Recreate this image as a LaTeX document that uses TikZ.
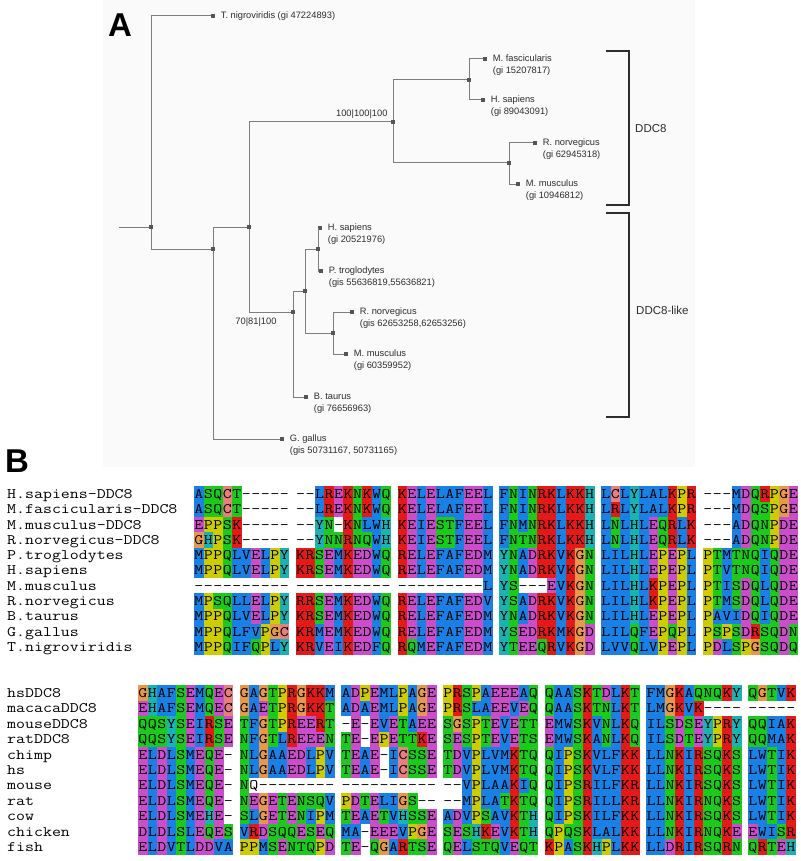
\documentclass[tikz,border=0pt]{standalone}
\usepackage{fontspec}
\setmainfont{Liberation Sans}
\newfontfamily\seqfont[FakeStretch=1.2]{Latin Modern Mono}
\usetikzlibrary{positioning}

% ClustalX residue colours
\definecolor{cxblue}{RGB}{25,128,230}
\definecolor{cxred}{RGB}{230,25,25}
\definecolor{cxgreen}{RGB}{25,204,25}
\definecolor{cxmagenta}{RGB}{204,77,204}
\definecolor{cxpink}{RGB}{230,128,128}
\definecolor{cxorange}{RGB}{230,153,77}
\definecolor{cxcyan}{RGB}{25,179,179}
\definecolor{cxyellow}{RGB}{204,204,0}
\definecolor{branchgray}{RGB}{125,125,125}
\definecolor{nodegray}{RGB}{85,85,85}
\definecolor{labelgray}{RGB}{45,45,45}
\definecolor{panelbg}{RGB}{250,250,250}

\makeatletter
\newcount\rescount
\def\cellw{9.5}
\def\cellh{15.3}
\def\rc@set#1#2{\@namedef{rc@#1}{#2}}
\rc@set{A}{cxblue}\rc@set{I}{cxblue}\rc@set{L}{cxblue}\rc@set{M}{cxblue}
\rc@set{F}{cxblue}\rc@set{W}{cxblue}\rc@set{V}{cxblue}
\rc@set{C}{cxpink}
\rc@set{K}{cxred}\rc@set{R}{cxred}
\rc@set{E}{cxmagenta}\rc@set{D}{cxmagenta}
\rc@set{N}{cxgreen}\rc@set{Q}{cxgreen}\rc@set{S}{cxgreen}\rc@set{T}{cxgreen}
\rc@set{G}{cxorange}
\rc@set{P}{cxyellow}
\rc@set{H}{cxcyan}\rc@set{Y}{cxcyan}
% one block of residues, lower case = no colour
\newcommand\resblock[1]{\rescount=0 \res@loop#1\relax}
\def\res@loop#1{\ifx\relax#1\else\res@draw{#1}\advance\rescount by 1 \expandafter\res@loop\fi}
\def\res@draw#1{%
  \ifcsname rc@#1\endcsname
    \edef\rescol{\csname rc@#1\endcsname}%
    \fill[fill=\rescol] ({\resx+\the\rescount*\cellw},{\resy-\cellh/2}) rectangle ++({\cellw+0.25},{\cellh+0.25});%
  \fi
  \edef\resname{\resid-\the\rescount}%
  \node[res] at ({\resx+(\the\rescount+0.5)*\cellw},\resy) (\resname) {\uppercase{#1}};}
\makeatother

% one alignment row: id, y, name, blocks
\newcommand\alnrow[4]{%
  \node[seqname] at (7,#2) (#1) {#3};
  \foreach \blk [count=\bi from 0] in {#4} {%
    \pgfmathsetmacro\resx{\alnx+\bi*\alnpitch}%
    \def\resy{#2}\edef\resid{#1-\bi}%
    \expandafter\resblock\expandafter{\blk}}}

\begin{document}
\begin{tikzpicture}[x=1pt,y=-1pt,
  branch/.style={draw=branchgray, line width=1pt},
  inode/.style={fill=nodegray, inner sep=0pt, minimum size=4.2pt},
  leaf/.style={fill=nodegray, inner sep=0pt, minimum size=4pt},
  lab/.style={font=\fontsize{9.3}{11}\selectfont, text=labelgray, inner sep=0pt, text height=6.8pt, text depth=2pt},
  grp/.style={font=\fontsize{11.5}{13}\selectfont, text=labelgray, inner sep=0pt, anchor=west},
  bracket/.style={draw=labelgray, line width=1.4pt},
  panel/.style={font=\fontsize{33}{33}\selectfont\bfseries, inner sep=0pt, text height=23.6pt, text depth=0pt},
  seqname/.style={font=\fontsize{14.5}{15}\seqfont, anchor=west, inner sep=0pt, text height=8.8pt, text depth=0pt},
  res/.style={font=\fontsize{14.5}{15}\seqfont, inner sep=0pt, text height=8.8pt, text depth=0pt}]

\useasboundingbox (0,0) rectangle (800,861);
\fill[panelbg] (103,0) rectangle (695,467);

\node[panel] at (120,25) (A) {A};
\node[panel] at (17,461) (B) {B};

% tree
\coordinate (stem) at (119,227);
\node[inode] at (151,227) (root) {};
\node[inode] at (213,249) (split) {};
\node[inode] at (249,227) (mam) {};
\node[inode] at (393,122) (ddc) {};
\node[inode] at (469,80) (prim) {};
\node[inode] at (509,163) (rod) {};
\node[inode] at (293,312) (like) {};
\node[inode] at (305,291) (eut) {};
\node[inode] at (318,249) (hom) {};
\node[inode] at (333,333) (mur) {};

\node[leaf] at (213,16) (tnig) {};
\node[leaf] at (485,59) (mfas) {};
\node[leaf] at (483,100) (hsap) {};
\node[leaf] at (535,143) (rnor) {};
\node[leaf] at (518,184) (mmus) {};
\node[leaf] at (320,228) (hsapl) {};
\node[leaf] at (321,271) (ptro) {};
\node[leaf] at (352,312) (rnorl) {};
\node[leaf] at (346,354) (mmusl) {};
\node[leaf] at (306,397) (btau) {};
\node[leaf] at (282,439) (ggal) {};

\draw[branch] (stem) -- (root);
\draw[branch] (root) |- (tnig);
\draw[branch] (root) |- (split);
\draw[branch] (split) |- (mam);
\draw[branch] (split) |- (ggal);
\draw[branch] (mam) |- (ddc);
\draw[branch] (mam) |- (like);
\draw[branch] (ddc) |- (prim);
\draw[branch] (ddc) |- (rod);
\draw[branch] (prim) |- (mfas);
\draw[branch] (prim) |- (hsap);
\draw[branch] (rod) |- (rnor);
\draw[branch] (rod) |- (mmus);
\draw[branch] (like) |- (eut);
\draw[branch] (like) |- (btau);
\draw[branch] (eut) |- (hom);
\draw[branch] (eut) |- (mur);
\draw[branch] (hom) |- (hsapl);
\draw[branch] (hom) |- (ptro);
\draw[branch] (mur) |- (rnorl);
\draw[branch] (mur) |- (mmusl);

\node[lab, right=5.5pt of tnig] (tnig-n) {T. nigroviridis (gi 47224893)};
\node[lab, right=5.5pt of mfas] (mfas-n) {M. fascicularis};
\node[lab, below right=3pt and 0pt of mfas-n.south west] (mfas-g) {(gi 15207817)};
\node[lab, right=5.5pt of hsap] (hsap-n) {H. sapiens};
\node[lab, below right=3pt and 0pt of hsap-n.south west] (hsap-g) {(gi 89043091)};
\node[lab, right=5.5pt of rnor] (rnor-n) {R. norvegicus};
\node[lab, below right=3pt and 0pt of rnor-n.south west] (rnor-g) {(gi 62945318)};
\node[lab, right=5.5pt of mmus] (mmus-n) {M. musculus};
\node[lab, below right=3pt and 0pt of mmus-n.south west] (mmus-g) {(gi 10946812)};
\node[lab, right=5.5pt of hsapl] (hsapl-n) {H. sapiens};
\node[lab, below right=3pt and 0pt of hsapl-n.south west] (hsapl-g) {(gi 20521976)};
\node[lab, right=5.5pt of ptro] (ptro-n) {P. troglodytes};
\node[lab, below right=3pt and 0pt of ptro-n.south west] (ptro-g) {(gis 55636819,55636821)};
\node[lab, right=5.5pt of rnorl] (rnorl-n) {R. norvegicus};
\node[lab, below right=3pt and 0pt of rnorl-n.south west] (rnorl-g) {(gis 62653258,62653256)};
\node[lab, right=5.5pt of mmusl] (mmusl-n) {M. musculus};
\node[lab, below right=3pt and 0pt of mmusl-n.south west] (mmusl-g) {(gi 60359952)};
\node[lab, right=5.5pt of btau] (btau-n) {B. taurus};
\node[lab, below right=3pt and 0pt of btau-n.south west] (btau-g) {(gi 76656963)};
\node[lab, right=5.5pt of ggal] (ggal-n) {G. gallus};
\node[lab, below right=3pt and 0pt of ggal-n.south west] (ggal-g) {(gis 50731167, 50731165)};

\node[lab, above left=0.5pt and 3pt of ddc] (ddc-bs) {100|100|100};
\node[lab, below left=3pt and 14pt of like] (like-bs) {70|81|100};

% clade brackets
\coordinate (ddcA) at (606,51);
\coordinate (ddcB) at (606,205);
\coordinate (likeA) at (606,213);
\coordinate (likeB) at (606,417);
\draw[bracket] (ddcA) -- ++(23,0) |- (ddcB);
\draw[bracket] (likeA) -- ++(23,0) |- (likeB);
\node[grp] at (635,129) (ddc-lab) {DDC8};
\node[grp] at (636,310) (like-lab) {DDC8-like};

% alignment, first part
\def\alnx{194}\def\alnpitch{101.8}
\alnrow{p1}{494}{H.sapiens-DDC8}{ASQCT-----,--LREKNKWQ,KELELAFEEL,FNINRKLKKH,LCLYLALKPR,---MDQRPGE}
\alnrow{p2}{509.3}{M.fascicularis-DDC8}{ASQCT-----,--LREKNKWQ,KELELAFEEL,FNINRKLKKH,LRLYLALKPR,---MDQSPGE}
\alnrow{p3}{524.6}{M.musculus-DDC8}{EPPSK-----,--YN-KNLWH,KEIESTFEEL,FNMNRKLKKH,LNLHLEQRLK,---ADQNPDE}
\alnrow{p4}{539.9}{R.norvegicus-DDC8}{GHPSK-----,--YNNRNQWH,KEIESTFEEL,FNTNRKLKKH,LNLHLEQRLK,---ADQNPDE}
\alnrow{p5}{555.2}{P.troglodytes}{MPPQLVELPY,KRSEMKEDWQ,RELEFAFEDM,YNADRKVKGN,LILHLEPEPL,PTMTNQIQDE}
\alnrow{p6}{570.5}{H.sapiens}{MPPQLVELPY,KRSEMKEDWQ,RELEFAFEDM,YNADRKVKGN,LILHLEPEPL,PTVTNQIQDE}
\alnrow{p7}{585.8}{M.musculus}{----------,----------,---------L,YS---EVKGN,LILHLKPEPL,PTISDQLQDE}
\alnrow{p8}{601.1}{R.norvegicus}{MPSQLLELPY,RRSEMKEDWQ,RELEFAFEDV,YSADRKVKGN,LILHLKPEPL,PTMSDQLQDE}
\alnrow{p9}{616.4}{B.taurus}{MPPQLVELPY,KRSEMKEDWQ,RELEFAFEDM,YNADRKVKGN,LILHLEPEPL,PAVIDQIQDE}
\alnrow{p10}{631.7}{G.gallus}{MPPQLFVPGC,KRMEMKEDWQ,RELEFAFEDM,YSEDRKMKGD,LILQFEPQPL,PSPSDRSQDN}
\alnrow{p11}{647}{T.nigroviridis}{MPPQIFQPLY,KRVEIKEDFQ,RQMEFAFEDM,YTEEQRVKGD,LVVQLVPEPL,PDLSPGSQDQ}

% alignment, second part
\def\alnx{138}\def\alnpitch{101.67}
\alnrow{q1}{693}{hsDDC8}{GHAFSEMQEC,GAGTPRGKKM,ADPEMLPAGE,PRSPAEEEAQ,QAASKTDLKT,FMGKAQNQKY,QGTVK}
\alnrow{q2}{708.4}{macacaDDC8}{EHAFSEMQEC,GAETPRGKKT,ADAEMLPAGE,PRSLAEEVEQ,QAASKTNLKT,LMGKVK----,-----}
\alnrow{q3}{723.8}{mouseDDC8}{QQSYSEIRSE,TFGTPREERT,-E-EVETAEE,SGSPTEVETT,EMWSKVNLKQ,ILSDSEYPRY,QQIAK}
\alnrow{q4}{739.2}{ratDDC8}{QQSYSEIRSE,NFGTLREEEN,TE-EPETTKE,SESPTEVETS,EMWSKANLKQ,ILSDTEYPRY,QQMAK}
\alnrow{q5}{754.6}{chimp}{ELDLSMEQE-,NLGAAEDLPV,TEAE-ICSSE,TDVPLVMKTQ,QIPSKVLFKK,LLNKIRSQKS,LWTIK}
\alnrow{q6}{770}{hs}{ELDLSMEQE-,NLGAAEDLPV,TEAE-ICSSE,TDVPLVMKTQ,QIPSKVLFKK,LLNKIRSQKS,LWTIK}
\alnrow{q7}{785.4}{mouse}{ELDLSMEQE-,Nq--------,----------,--VPLAAKIQ,QIPSRILFKR,LLNKIRSQKS,LWTIK}
\alnrow{q8}{800.8}{rat}{ELDLSMEQE-,NEGETENSQV,PDTELIGS--,--MPLATKTQ,QIPSRILLKR,LLNKIRNQKS,LWTIK}
\alnrow{q9}{816.2}{cow}{ELDLSMEHE-,SLGETENIPM,TEAETVHSSE,ADVPSAVKTH,QIPSKILFKK,LLNKIRSQKS,LWTIK}
\alnrow{q10}{831.6}{chicken}{DLDLSLEQES,VRDSQQESEQ,MA-EEEVPGE,SESHKEVKTH,QPQSKLALKK,LLNKIRNQKE,EWISR}
\alnrow{q11}{847}{fish}{ELDVTLDDVA,PPMSENTQPD,TE-QGARTSE,QELSTQVEQT,KPASKHPLKK,LLDRIRSQRN,QRTEH}
\end{tikzpicture}
\end{document}
